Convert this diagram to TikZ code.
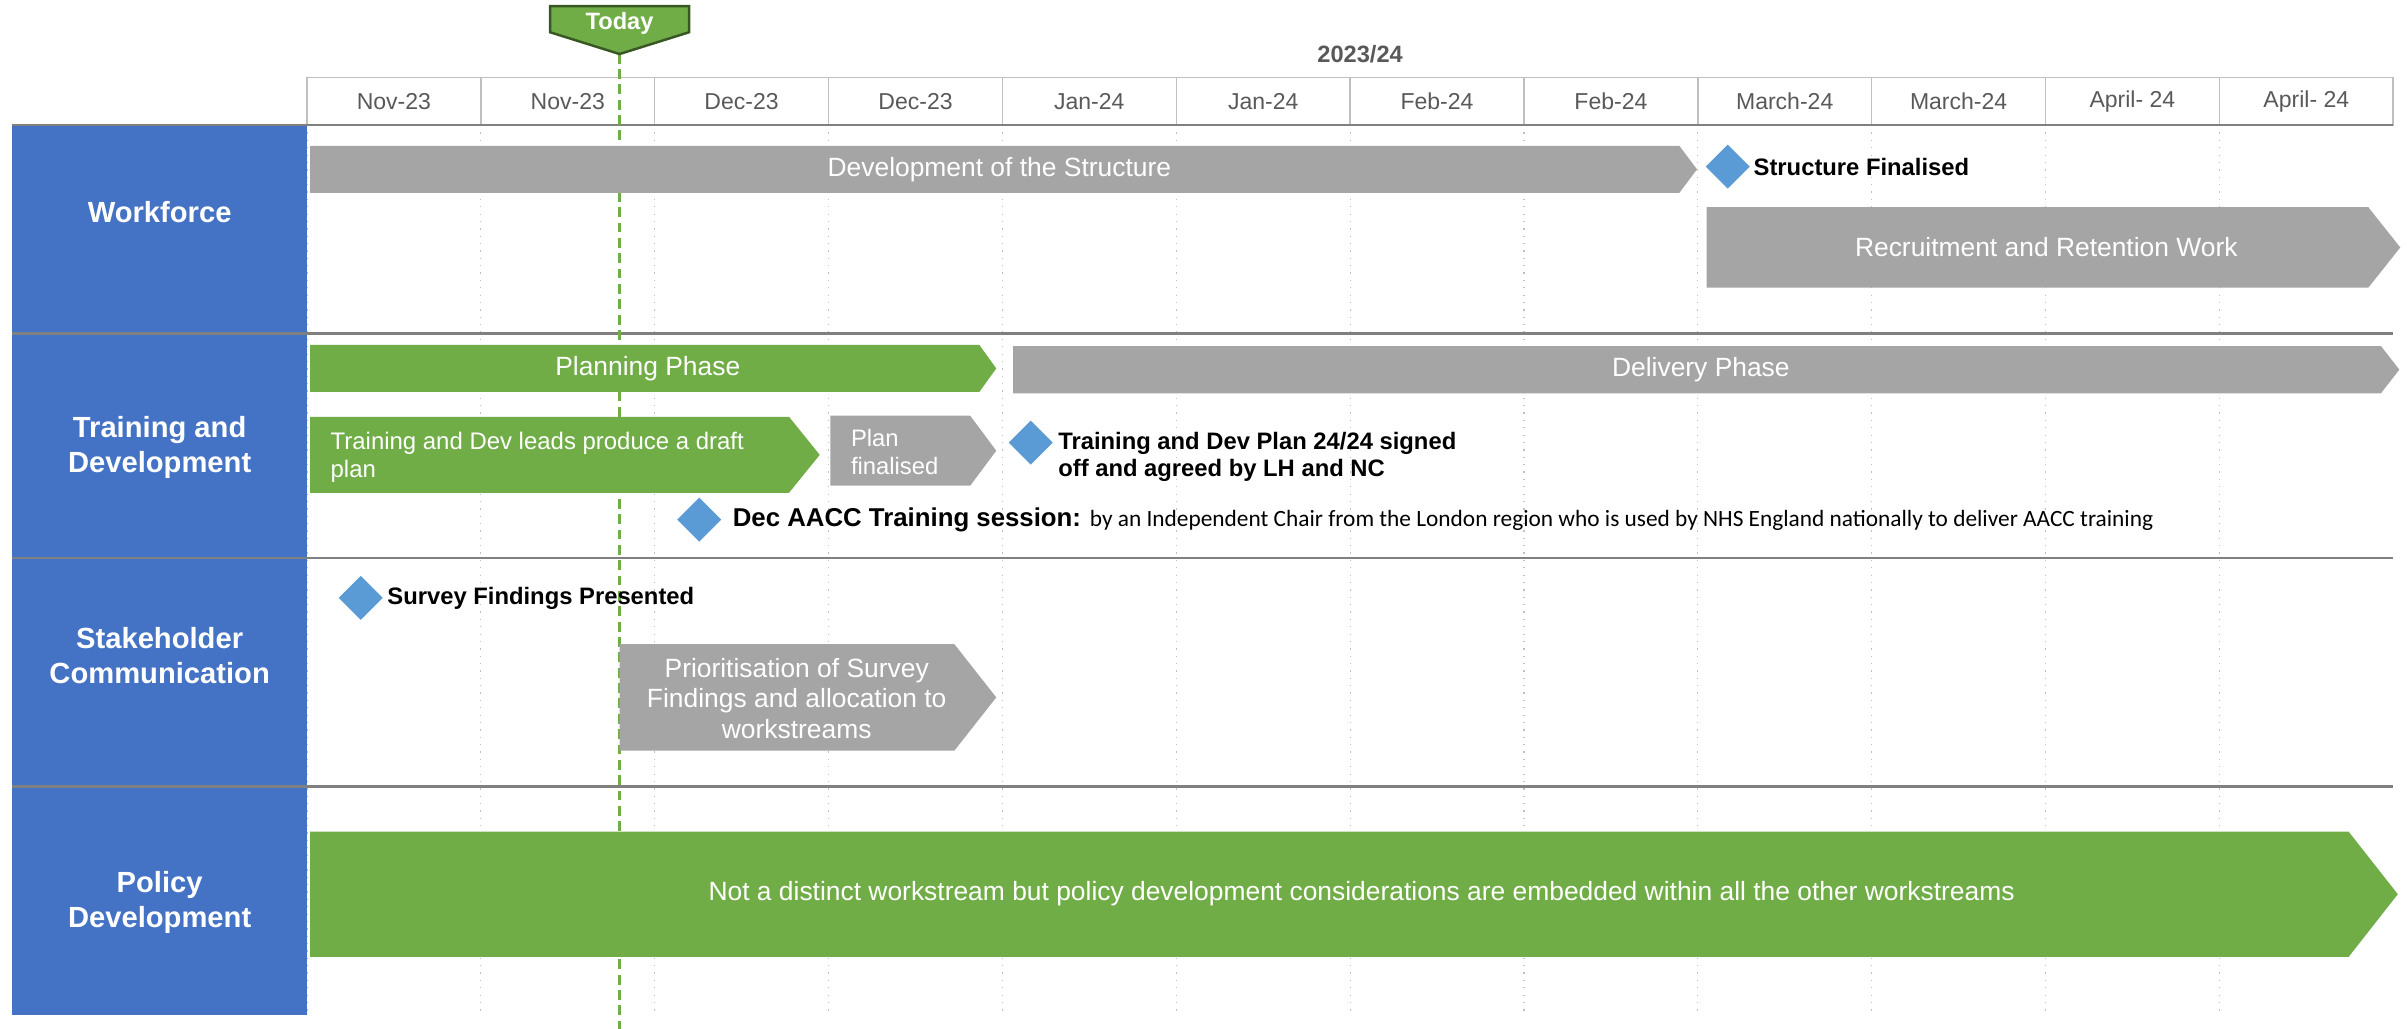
\documentclass[tikz,border=0pt]{standalone}
\usepackage{fontspec}
\setmainfont{Liberation Sans}
\newfontfamily\calfont{Carlito}
\usetikzlibrary{shapes.geometric}
\definecolor{laneblue}{HTML}{4472C4}
\definecolor{phasegreen}{HTML}{70AD47}
\definecolor{todayedge}{HTML}{385723}
\definecolor{taskgrey}{HTML}{A5A5A5}
\definecolor{milestoneblue}{HTML}{5B9BD5}
\definecolor{headgrey}{HTML}{595959}
\definecolor{gridgrey}{HTML}{BFBFBF}
\definecolor{rulegrey}{HTML}{808080}

\begin{document}
\begin{tikzpicture}[x=0.5pt, y=-0.5pt,
    month/.style={text=headgrey, font=\fontsize{7.5}{9}\selectfont},
    lane/.style={text=white, align=center, font=\bfseries\fontsize{9.5}{11.5}\selectfont},
    bartext/.style={text=white, inner sep=0pt, font=\fontsize{8.6}{10}\selectfont},
    greybar/.style={fill=taskgrey},
    greenbar/.style={fill=phasegreen},
    milestone/.style={diamond, fill=milestoneblue, inner sep=0pt, minimum width=14.5pt, minimum height=14.5pt},
    miletext/.style={anchor=west, inner sep=0pt, align=left, font=\bfseries\fontsize{7.75}{9}\selectfont},
    rowrule/.style={draw=rulegrey, line width=0.9pt}]
        \useasboundingbox (0,0) rectangle (1568,670.3);

        \foreach \i in {0,...,11}
            \draw[gridgrey, line width=0.5pt] (200+\i*113.25,50.6) rectangle (313.25+\i*113.25,81.5);
        \foreach \i in {0,...,11}
            \draw[gridgrey, dotted, line width=0.4pt] (200+\i*113.25,81.5) -- (200+\i*113.25,660);

        \node[text=headgrey, font=\bfseries\fontsize{7.7}{9}\selectfont] (year) at (886,35.5) {2023/24};
        \node[month] (nov1) at (256.6,66) {Nov-23};
        \node[month] (nov2) at (369.9,66) {Nov-23};
        \node[month] (dec1) at (483.1,66) {Dec-23};
        \node[month] (dec2) at (596.4,66) {Dec-23};
        \node[month] (jan1) at (709.6,66) {Jan-24};
        \node[month] (jan2) at (822.9,66) {Jan-24};
        \node[month] (feb1) at (936.1,66) {Feb-24};
        \node[month] (feb2) at (1049.4,66) {Feb-24};
        \node[month] (mar1) at (1162.6,66) {March-24};
        \node[month] (mar2) at (1275.9,66) {March-24};
        \node[month] (apr1) at (1389.1,66) {April- 24};
        \node[month] (apr2) at (1502.4,66) {April- 24};

        \fill[laneblue] (8,81.5) rectangle (200,661);
        \node[lane] (workforce) at (104,138) {Workforce};
        \node[lane] (training) at (104,291.5) {Training and\\Development};
        \node[lane] (stakeholder) at (104,427) {Stakeholder\\Communication};
        \node[lane] (policy) at (104,588) {Policy\\Development};
        \draw[rowrule] (8,81.5) -- (1559,81.5);
        \draw[rowrule] (8,217) -- (1559,217);
        \draw[rowrule] (8,363.5) -- (1559,363.5);
        \draw[rowrule] (8,512.3) -- (1559,512.3);

        \draw[phasegreen, dash pattern=on 3.2pt off 1.8pt, line width=0.85pt] (403.6,35) -- (403.6,670.3);
        \filldraw[fill=phasegreen, draw=todayedge, line width=0.8pt] (358.3,4) -- (448.9,4) -- (448.9,21) -- (403.6,35.2) -- (358.3,21) -- cycle;
        \node[text=white, font=\bfseries\fontsize{7.7}{9}\selectfont] (today) at (403.6,15.5) {Today};

        \fill[greybar] (202,95) -- (1094,95) -- (1105.5,110.3) -- (1094,125.6) -- (202,125.6) -- cycle;
        \node[bartext] (structure) at (651,110.3) {Development of the Structure};
        \node[milestone] (finalisedmark) at (1125.5,108.5) {};
        \node[miletext] (finalisedtext) at (1142,109) {Structure Finalised};
        \fill[greybar] (1111.7,135) -- (1542.8,135) -- (1563.6,161.2) -- (1542.8,187.4) -- (1111.7,187.4) -- cycle;
        \node[bartext] (recruit) at (1333,161.2) {Recruitment and Retention Work};

        \fill[greenbar] (202,224.7) -- (638,224.7) -- (649,240) -- (638,255.3) -- (202,255.3) -- cycle;
        \node[bartext] (planning) at (422,240) {Planning Phase};
        \fill[greybar] (660,225.4) -- (1551,225.4) -- (1563,240.8) -- (1551,256.2) -- (660,256.2) -- cycle;
        \node[bartext] (delivery) at (1108,240.8) {Delivery Phase};
        \fill[greenbar] (202,271.5) -- (514,271.5) -- (534,296.3) -- (514,321) -- (202,321) -- cycle;
        \node[bartext, anchor=west, align=left, font=\fontsize{7.8}{9.25}\selectfont] (draft) at (215,298) {Training and Dev leads produce a draft\\plan};
        \fill[greybar] (541,270.8) -- (632,270.8) -- (649,293.6) -- (632,316.4) -- (541,316.4) -- cycle;
        \node[bartext, anchor=west, align=left, font=\fontsize{7.75}{9}\selectfont] (finalised) at (554,294.5) {Plan\\finalised};
        \node[milestone] (signedmark) at (671.5,288.3) {};
        \node[miletext] (signedtext) at (689,297.6) {Training and Dev Plan 24/24 signed\\off and agreed by LH and NC};
        \node[milestone] (aaccmark) at (455.5,338.5) {};
        \node[miletext] (aacctext) at (477,338.5) {{\fontsize{8.4}{10}\selectfont Dec AACC Training session:} {\calfont\mdseries\fontsize{7.6}{9}\selectfont by an Independent Chair from the London region who is used by NHS England nationally to deliver AACC training}};

        \node[milestone] (surveymark) at (235,389.5) {};
        \node[miletext] (surveytext) at (252,389.8) {Survey Findings Presented};
        \fill[greybar] (403.7,419.6) -- (621.7,419.6) -- (649,454.3) -- (621.7,489) -- (403.7,489) -- cycle;
        \node[bartext, align=center] (priority) at (519,455) {Prioritisation of Survey\\Findings and allocation to\\workstreams};

        \fill[greenbar] (202,541.8) -- (1530,541.8) -- (1562,582.5) -- (1530,623.3) -- (202,623.3) -- cycle;
        \node[bartext] (embedded) at (887,582) {Not a distinct workstream but policy development considerations are embedded within all the other workstreams};
    \end{tikzpicture}
\end{document}
